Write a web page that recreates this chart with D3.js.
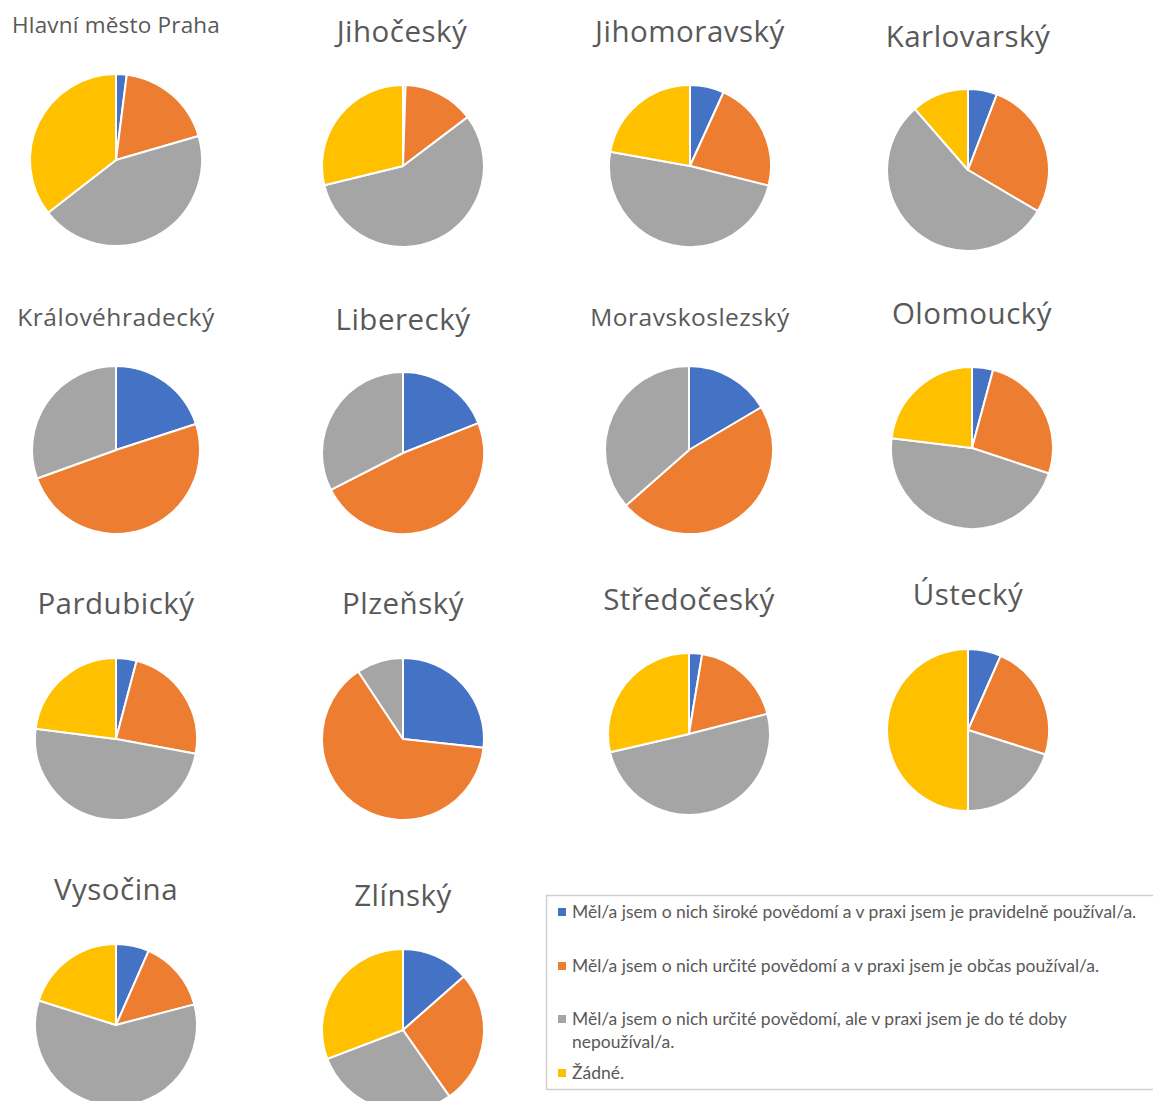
<!DOCTYPE html>
<html>
<head>
<meta charset="utf-8">
<script src="https://cdn.jsdelivr.net/npm/d3@7"></script>
<style>
  html, body { margin: 0; padding: 0; background: #fff; }
  svg { display: block; }
</style>
</head>
<body>
<svg id="chart" width="1153" height="1101"></svg>
<script>
// Regions (kraje) and survey answer shares in percent
const regions = ["Hlavní město Praha", "Jihočeský", "Jihomoravský", "Karlovarský",
  "Královéhradecký", "Liberecký", "Moravskoslezský", "Olomoucký",
  "Pardubický", "Plzeňský", "Středočeský", "Ústecký",
  "Vysočina", "Zlínský"];

const regularUse    = [2.0, 0.5, 6.8, 5.8, 20.0, 19.0, 16.5, 4.2, 4.1, 26.7, 2.6, 6.6, 6.6, 13.5];
const occasionalUse = [18.5, 14.2, 22.1, 27.7, 49.5, 48.5, 47.0, 25.9, 23.8, 64.0, 18.4, 23.3, 14.3, 26.8];
const notUsed       = [44.0, 56.5, 48.9, 55.1, 30.5, 32.5, 36.5, 46.8, 49.1, 9.3, 50.4, 20.1, 59.0, 28.9];
const noneAtAll     = [35.5, 28.8, 22.2, 11.4, 0.0, 0.0, 0.0, 23.1, 23.0, 0.0, 28.6, 50.0, 20.1, 30.8];

const legendLabels = [
  ["Měl/a jsem o nich široké povědomí a v praxi jsem je pravidelně používal/a."],
  ["Měl/a jsem o nich určité povědomí a v praxi jsem je občas používal/a."],
  ["Měl/a jsem o nich určité povědomí, ale v praxi jsem je do té doby", "nepoužíval/a."],
  ["Žádné."]
];

const colors = ["#4472C4", "#ED7D31", "#A5A5A5", "#FFC000"];

// Layout of the small multiples: pie centre, radius, title anchor and size
const layout = [
  { cx: 116, cy: 160, r: 86, tx: 12,  ty: 33,  anchor: "start",  fs: 22.5 },
  { cx: 403, cy: 166, r: 81, tx: 402, ty: 42,  anchor: "middle", fs: 29.5 },
  { cx: 690, cy: 166, r: 81, tx: 690, ty: 42,  anchor: "middle", fs: 29.5 },
  { cx: 968, cy: 170, r: 81, tx: 968, ty: 47,  anchor: "middle", fs: 29.5 },
  { cx: 116, cy: 450, r: 84, tx: 116, ty: 326, anchor: "middle", fs: 24.5 },
  { cx: 403, cy: 453, r: 81, tx: 403, ty: 330, anchor: "middle", fs: 29.5 },
  { cx: 689, cy: 450, r: 84, tx: 690, ty: 326, anchor: "middle", fs: 24.5 },
  { cx: 972, cy: 448, r: 81, tx: 972, ty: 324, anchor: "middle", fs: 29.5 },
  { cx: 116, cy: 739, r: 81, tx: 116, ty: 614, anchor: "middle", fs: 29.5 },
  { cx: 403, cy: 739, r: 81, tx: 403, ty: 614, anchor: "middle", fs: 29.5 },
  { cx: 689, cy: 734, r: 81, tx: 689, ty: 610, anchor: "middle", fs: 29.5 },
  { cx: 968, cy: 730, r: 81, tx: 968, ty: 605, anchor: "middle", fs: 29.5 },
  { cx: 116, cy: 1025, r: 81, tx: 116, ty: 900, anchor: "middle", fs: 29.5 },
  { cx: 403, cy: 1030, r: 81, tx: 403, ty: 906, anchor: "middle", fs: 29.5 }
];

const svg = d3.select("#chart");
const titleFont = "'Open Sans', 'Noto Sans', sans-serif";
const color = d3.scaleOrdinal().domain(d3.range(4)).range(colors);

const pie = d3.pie().sort(null).value(d => d.v);

regions.forEach((name, i) => {
  const L = layout[i];
  const values = [regularUse[i], occasionalUse[i], notUsed[i], noneAtAll[i]]
    .map((v, k) => ({ k, v }));
  const arc = d3.arc().innerRadius(0).outerRadius(L.r);

  svg.append("text")
    .attr("x", L.tx).attr("y", L.ty)
    .attr("text-anchor", L.anchor)
    .attr("font-family", titleFont)
    .attr("font-size", L.fs)
    .attr("letter-spacing", i === 0 ? 0.2 : 0.5)
    .attr("fill", "#595959")
    .text(name);

  svg.append("g")
    .attr("transform", `translate(${L.cx},${L.cy})`)
    .selectAll("path")
    .data(pie(values).filter(d => d.data.v > 0))
    .join("path")
    .attr("d", arc)
    .attr("fill", d => color(d.data.k))
    .attr("stroke", "#fff")
    .attr("stroke-width", 2)
    .attr("stroke-linejoin", "round");
});

// Legend
const legendFont = "Lato, 'Noto Sans', sans-serif";
const lg = svg.append("g");
lg.append("rect")
  .attr("x", 546.5).attr("y", 895.5)
  .attr("width", 620).attr("height", 194)
  .attr("fill", "#fff")
  .attr("stroke", "#d0d0d0")
  .attr("stroke-width", 1.5);

const itemY = [912, 966, 1019, 1073];
legendLabels.forEach((lines, k) => {
  lg.append("rect")
    .attr("x", 558).attr("y", itemY[k] - 4)
    .attr("width", 8).attr("height", 8)
    .attr("fill", colors[k]);
  lines.forEach((line, j) => {
    lg.append("text")
      .attr("x", 572).attr("y", itemY[k] + 6 + j * 23)
      .attr("font-family", legendFont)
      .attr("font-size", 17.5)
      .attr("fill", "#595959")
      .text(line);
  });
});
</script>
</body>
</html>
